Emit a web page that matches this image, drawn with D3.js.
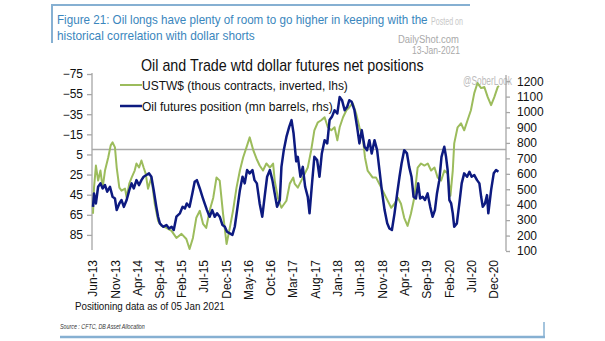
<!DOCTYPE html>
<html>
<head>
<meta charset="utf-8">
<script src="https://cdn.jsdelivr.net/npm/d3@7"></script>
<style>
  html, body { margin: 0; padding: 0; background: #fff; }
  svg { display: block; font-family: "Liberation Sans", Arial, sans-serif; }
</style>
</head>
<body>
<div id="chart"></div>
<script>
// USTW$ net positions (thous contracts, inverted, lhs)
const usdPositions = [
  ["2013-06-01",64],["2013-06-08",38],["2013-06-21",16],["2013-07-06",31],["2013-07-22",21],["2013-08-06",38],
  ["2013-08-22",21],["2013-09-13",8],["2013-09-30",-4],["2013-10-13",-7],["2013-10-29",-2],["2013-11-10",18],
  ["2013-11-28",38],["2013-12-13",41],["2014-01-06",39],["2014-01-17",48],["2014-02-04",34],["2014-02-20",28],
  ["2014-03-13",21],["2014-03-25",14],["2014-04-12",18],["2014-04-28",11],["2014-05-13",18],["2014-05-27",24],
  ["2014-06-12",39],["2014-07-05",28],["2014-07-28",54],["2014-08-20",71],["2014-09-12",76],["2014-10-16",78],
  ["2014-11-20",81],["2014-12-23",88],["2015-01-27",84],["2015-03-01",89],["2015-03-23",99],["2015-04-15",88],
  ["2015-05-08",68],["2015-06-01",61],["2015-06-23",74],["2015-07-15",78],["2015-08-07",61],["2015-09-01",48],
  ["2015-09-23",28],["2015-10-15",31],["2015-11-07",64],["2015-12-01",94],["2015-12-23",78],["2016-01-14",61],
  ["2016-02-07",38],["2016-03-01",21],["2016-03-23",8],["2016-04-15",-2],["2016-05-07",-12],["2016-06-01",1],
  ["2016-06-22",9],["2016-07-14",16],["2016-08-06",21],["2016-08-29",14],["2016-09-22",18],["2016-10-14",14],
  ["2016-10-25",31],["2016-11-17",49],["2016-12-10",58],["2017-01-13",51],["2017-02-05",34],["2017-03-01",28],
  ["2017-03-10",34],["2017-04-01",38],["2017-05-05",28],["2017-06-08",18],["2017-07-01",1],["2017-07-23",-19],
  ["2017-08-16",-27],["2017-09-08",-29],["2017-10-01",-32],["2017-10-23",-22],["2017-11-16",-19],["2017-12-08",-22],
  ["2017-12-27",-9],["2018-01-12",-22],["2018-02-04",-32],["2018-02-27",-39],["2018-03-19",-42],["2018-04-11",-46],
  ["2018-05-04",-36],["2018-05-27",-22],["2018-06-19",-12],["2018-07-04",8],["2018-07-22",21],["2018-08-26",28],
  ["2018-09-18",28],["2018-10-23",38],["2018-11-26",48],["2018-12-30",58],["2019-01-22",54],["2019-02-14",48],
  ["2019-03-07",54],["2019-03-29",68],["2019-04-21",76],["2019-05-14",64],["2019-06-06",48],["2019-06-29",18],
  ["2019-07-22",14],["2019-08-14",16],["2019-09-06",14],["2019-09-29",21],["2019-10-22",18],["2019-11-13",28],
  ["2019-12-06",31],["2019-12-29",21],["2020-01-21",24],["2020-02-08",46],["2020-02-24",21],["2020-03-05",-6],
  ["2020-03-28",-22],["2020-04-20",-26],["2020-05-12",-19],["2020-06-04",-29],["2020-06-27",-39],["2020-07-20",-56],
  ["2020-08-11",-66],["2020-09-05",-61],["2020-09-27",-62],["2020-10-20",-52],["2020-11-12",-44],["2020-12-04",-52],
  ["2020-12-27",-62],["2021-01-05",-63]
];

// Oil futures net position (mn barrels, rhs)
const oilPositions = [
  ["2013-06-01",386],["2013-06-08",473],["2013-06-21",408],["2013-07-06",516],["2013-07-22",538],["2013-08-06",505],
  ["2013-08-22",527],["2013-09-06",484],["2013-09-25",516],["2013-10-13",451],["2013-10-29",440],["2013-11-10",365],
  ["2013-11-28",408],["2013-12-13",430],["2013-12-29",386],["2014-01-17",430],["2014-02-04",494],["2014-02-20",538],
  ["2014-03-07",505],["2014-03-25",559],["2014-04-12",527],["2014-04-28",559],["2014-05-13",581],["2014-06-01",592],
  ["2014-06-19",603],["2014-07-05",581],["2014-07-21",494],["2014-08-08",386],["2014-08-20",322],["2014-09-01",279],
  ["2014-09-23",257],["2014-10-16",268],["2014-11-03",246],["2014-11-20",257],["2014-12-05",236],["2014-12-23",322],
  ["2015-01-16",344],["2015-02-03",386],["2015-02-19",375],["2015-03-04",408],["2015-03-23",386],["2015-04-11",473],
  ["2015-04-27",548],["2015-05-12",559],["2015-06-01",505],["2015-06-19",451],["2015-07-04",408],["2015-07-20",365],
  ["2015-08-07",322],["2015-08-25",365],["2015-09-11",322],["2015-09-27",344],["2015-10-15",322],["2015-11-03",268],
  ["2015-11-19",257],["2015-12-04",225],["2015-12-23",214],["2016-01-10",204],["2016-01-26",257],["2016-02-11",365],
  ["2016-03-01",494],["2016-03-19",581],["2016-04-03",538],["2016-04-19",624],["2016-05-07",603],["2016-05-26",624],
  ["2016-06-09",559],["2016-06-25",538],["2016-07-14",408],["2016-08-01",322],["2016-08-17",451],["2016-09-03",581],
  ["2016-09-22",624],["2016-10-09",559],["2016-10-25",473],["2016-11-10",386],["2016-11-29",430],["2016-12-10",645],
  ["2016-12-26",753],["2017-01-13",839],["2017-02-01",904],["2017-02-17",948],["2017-03-03",861],["2017-03-21",680],
  ["2017-04-01",710],["2017-04-19",581],["2017-05-05",645],["2017-05-21",516],["2017-06-08",451],["2017-06-20",344],
  ["2017-07-05",516],["2017-07-23",710],["2017-08-11",689],["2017-08-27",581],["2017-09-12",732],["2017-10-01",818],
  ["2017-10-19",797],["2017-11-04",948],["2017-11-20",969],["2017-12-08",1012],["2017-12-27",991],["2018-01-12",1098],
  ["2018-01-28",1077],["2018-02-15",1012],["2018-03-04",1034],["2018-03-19",1077],["2018-04-04",1066],["2018-04-23",1012],
  ["2018-05-11",904],["2018-05-27",797],["2018-06-12",883],["2018-07-01",775],["2018-07-18",753],["2018-08-03",818],
  ["2018-08-19",732],["2018-09-07",818],["2018-09-25",753],["2018-10-11",624],["2018-10-27",494],["2018-11-15",365],
  ["2018-12-03",279],["2018-12-18",246],["2019-01-04",236],["2019-01-22",344],["2019-02-09",473],["2019-02-25",581],
  ["2019-03-11",667],["2019-03-29",753],["2019-04-17",732],["2019-05-02",645],["2019-05-18",581],["2019-06-01",451],
  ["2019-06-17",440],["2019-07-03",538],["2019-07-16",440],["2019-08-02",451],["2019-08-18",430],["2019-09-05",473],
  ["2019-09-23",386],["2019-10-09",322],["2019-10-25",365],["2019-11-08",473],["2019-11-24",559],["2019-12-09",710],
  ["2019-12-28",775],["2020-01-09",710],["2020-01-20",624],["2020-02-01",430],["2020-02-13",408],["2020-02-24",344],
  ["2020-03-05",257],["2020-03-23",279],["2020-04-09",408],["2020-04-25",538],["2020-05-12",603],["2020-06-01",581],
  ["2020-06-17",613],["2020-07-02",581],["2020-07-20",592],["2020-08-08",559],["2020-08-24",538],["2020-09-05",451],
  ["2020-09-16",386],["2020-10-01",408],["2020-10-15",462],["2020-10-24",344],["2020-11-12",494],["2020-11-30",603],
  ["2020-12-16",624],["2021-01-01",613]
];

const xTickLabels = ["Jun-13","Nov-13","Apr-14","Sep-14","Feb-15","Jul-15","Dec-15","May-16","Oct-16","Mar-17",
  "Aug-17","Jan-18","Jun-18","Nov-18","Apr-19","Sep-19","Feb-20","Jul-20","Dec-20"];
const leftTicks = [-75, -55, -35, -15, 5, 25, 45, 65, 85];
const rightTicks = [100, 200, 300, 400, 500, 600, 700, 800, 900, 1000, 1100, 1200];

const green = "#9cbc5c";
const navy = "#0d1a80";
const axisGray = "#a6a6a6";
const frameBlue = "#86b0d2";

const parseDate = d3.timeParse("%Y-%m-%d");
const parseTick = d3.timeParse("%b-%y");
const usd = usdPositions.map(([d, v]) => ({ date: parseDate(d), value: v }));
const oil = oilPositions.map(([d, v]) => ({ date: parseDate(d), value: v }));

const svg = d3.select("#chart").append("svg")
  .attr("width", 605)
  .attr("height", 341);

svg.append("rect").attr("width", 605).attr("height", 341).attr("fill", "#fff");

// place a text at (x, y) and squeeze it horizontally to the given width
// (the source uses a condensed face)
function fitText(parent, x, y, width, str) {
  const t = parent.append("text").text(str);
  const w = t.node().getComputedTextLength() || width;
  t.attr("transform", `translate(${x},${y}) scale(${width / w},1)`);
  return t;
}

// scales
const x = d3.scaleTime()
  .domain([new Date(2013, 5, 1), new Date(2021, 0, 5)])
  .range([93, 499]);
const yLeft = d3.scaleLinear().domain([-75, 100]).range([74, 250]);
const yRight = d3.scaleLinear().domain([100, 1240]).range([251, 75]);

// page frame
svg.append("line").attr("x1", 52).attr("x2", 470).attr("y1", 5).attr("y2", 5)
  .attr("stroke", frameBlue).attr("stroke-width", 2);
svg.append("line").attr("x1", 52).attr("x2", 52).attr("y1", 4).attr("y2", 43)
  .attr("stroke", frameBlue).attr("stroke-width", 2);
svg.append("line").attr("x1", 60).attr("x2", 545).attr("y1", 337).attr("y2", 337)
  .attr("stroke", frameBlue).attr("stroke-width", 2.5);
svg.append("line").attr("x1", 544).attr("x2", 544).attr("y1", 322).attr("y2", 337)
  .attr("stroke", frameBlue).attr("stroke-width", 1.5);

// watermark
const wm = svg.append("g").attr("fill", "#a9a9a9");
fitText(wm.append("g").attr("font-size", 10).attr("fill", "#c8c8c8"), 431, 25, 32, "Posted on");
fitText(wm.append("g").attr("font-size", 11.5), 398, 43, 61, "DailyShot.com");
fitText(wm.append("g").attr("font-size", 10), 412, 54, 48, "13-Jan-2021");

// figure title
const title = svg.append("g").attr("fill", "#3a86bd").attr("font-size", 13);
fitText(title, 57, 24, 371, "Figure 21: Oil longs have plenty of room to go higher in keeping with the");
fitText(title, 57, 40, 198, "historical correlation with dollar shorts");

// chart title
fitText(svg.append("g").attr("font-size", 16).attr("fill", "#111"), 141, 71, 283,
  "Oil and Trade wtd dollar futures net positions");

// @SoberLook tag, just left of the right axis labels
fitText(svg.append("g").attr("font-size", 12).attr("fill", "#bdbdbd"), 463, 85, 49, "@SoberLook");

// zero line for the inverted dollar series
svg.append("line")
  .attr("x1", 92).attr("x2", 506)
  .attr("y1", yLeft(0)).attr("y2", yLeft(0))
  .attr("stroke", "#aaa").attr("stroke-width", 1.5);

// axes
const leftAxis = svg.append("g").attr("transform", "translate(92,0)")
  .call(d3.axisLeft(yLeft).tickValues(leftTicks).tickSize(5).tickPadding(4).tickFormat(d3.format("d")));
const rightAxis = svg.append("g").attr("transform", "translate(506,0)")
  .call(d3.axisRight(yRight).tickValues(rightTicks).tickSize(4).tickPadding(7).tickFormat(d3.format("d")));
[leftAxis, rightAxis].forEach(g => {
  g.select(".domain").attr("stroke", axisGray).attr("stroke-width", 1.3);
  g.selectAll(".tick line").attr("stroke", axisGray).attr("stroke-width", 1.3);
  g.selectAll(".tick text").attr("font-size", 12).attr("fill", "#111")
    .attr("font-family", "\"Liberation Sans\", Arial, sans-serif");
});
leftAxis.select(".domain").attr("d", `M-0,${yLeft(-75) - 1}V${yLeft(100)}`);
rightAxis.select(".domain").attr("d", `M0,${yRight(1240)}V${yRight(100)}`);

// x labels (rotated)
svg.append("g").selectAll("text")
  .data(xTickLabels)
  .join("text")
  .attr("transform", d => `translate(${x(parseTick(d))},260) rotate(-90)`)
  .attr("dy", "0.35em")
  .attr("text-anchor", "end")
  .attr("font-size", 12)
  .attr("fill", "#111")
  .text(d => d);

// series
const usdLine = d3.line().x(d => x(d.date)).y(d => yLeft(d.value));
const oilLine = d3.line().x(d => x(d.date)).y(d => yRight(d.value));

svg.append("path").datum(usd)
  .attr("d", usdLine)
  .attr("fill", "none").attr("stroke", green).attr("stroke-width", 2).attr("stroke-linejoin", "round");
svg.append("path").datum(oil)
  .attr("d", oilLine)
  .attr("fill", "none").attr("stroke", navy).attr("stroke-width", 2.5).attr("stroke-linejoin", "round");

// legend
const legendItems = [
  { label: "USTW$ (thous contracts, inverted, lhs)", color: green, width: 2, y: 85, len: 206 },
  { label: "Oil futures position (mn barrels, rhs)", color: navy, width: 2.5, y: 106, len: 191 }
];
const legend = svg.append("g").attr("font-size", 13).attr("fill", "#111");
legendItems.forEach(item => {
  legend.append("line").attr("x1", 120).attr("x2", 142).attr("y1", item.y).attr("y2", item.y)
    .attr("stroke", item.color).attr("stroke-width", item.width);
  fitText(legend, 142, item.y + 4.5, item.len, item.label);
});

// footnotes
fitText(svg.append("g").attr("font-size", 11.5).attr("fill", "#111"), 75, 310, 150,
  "Positioning data as of 05 Jan 2021");
fitText(svg.append("g").attr("font-size", 8).attr("font-style", "italic").attr("fill", "#333"), 60, 329, 85,
  "Source : CFTC, DB Asset Allocation");
</script>
</body>
</html>
